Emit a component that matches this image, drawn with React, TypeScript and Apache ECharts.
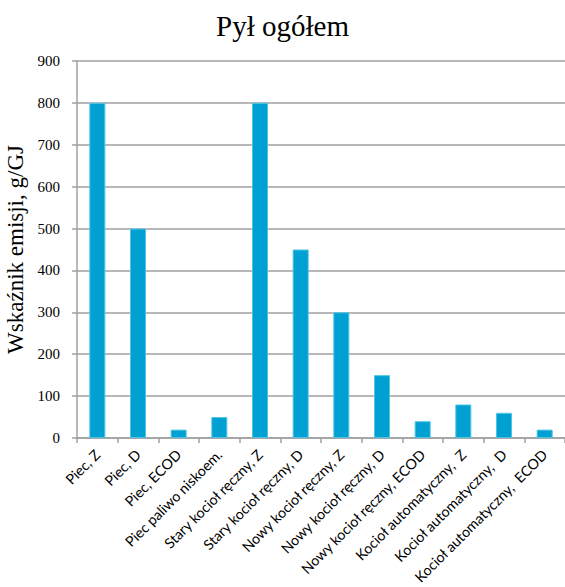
import React, { useEffect, useRef } from "react";
import * as echarts from "echarts";

const categories: string[] = [
  "Piec, Z",
  "Piec, D",
  "Piec, ECOD",
  "Piec paliwo niskoem.",
  "Stary kocioł ręczny, Z",
  "Stary kocioł ręczny, D",
  "Nowy kocioł ręczny, Z",
  "Nowy kocioł ręczny, D",
  "Nowy kocioł ręczny, ECOD",
  "Kocioł automatyczny,  Z",
  "Kocioł automatyczny,  D",
  "Kocioł automatyczny,  ECOD",
];

const emissionValues: number[] = [800, 500, 20, 50, 800, 450, 300, 150, 40, 80, 60, 20];

const titleText = "Pył ogółem";
const yAxisName = "Wskaźnik emisji, g/GJ";
const yMin = 0;
const yMax = 900;
const yInterval = 100;

const serif = "'Liberation Serif', 'Times New Roman', serif";

export default function App() {
  const ref = useRef<HTMLDivElement>(null);
  useEffect(() => {
    if (!ref.current) return;
    const chart = echarts.init(ref.current, undefined, { renderer: "svg" });
    const gray = "#a0a0a0";
    chart.setOption({
      animation: false,
      backgroundColor: "#ffffff",
      title: {
        text: titleText,
        left: "center",
        top: 6,
        textStyle: {
          fontFamily: serif,
          fontSize: 29,
          fontWeight: "normal",
          color: "#000",
        },
      },
      grid: {
        left: 77,
        right: 0,
        top: 61,
        bottom: 149,
        containLabel: false,
        outerBoundsMode: "none",
      },
      xAxis: {
        type: "category",
        data: categories,
        boundaryGap: true,
        axisLine: { show: true, lineStyle: { color: gray, width: 1.5 } },
        axisTick: { show: true, length: 5, alignWithLabel: false, lineStyle: { color: gray, width: 1.5 } },
        axisLabel: {
          interval: 0,
          rotate: 45,
          margin: 14,
          fontFamily: "Lato",
          fontSize: 14.3,
          color: "#000",
        },
      },
      yAxis: {
        type: "value",
        min: yMin,
        max: yMax,
        interval: yInterval,
        name: yAxisName,
        nameLocation: "middle",
        nameGap: 50,
        nameTextStyle: {
          fontFamily: serif,
          fontSize: 23,
          color: "#000",
        },
        axisLine: { show: true, lineStyle: { color: gray, width: 1.5 } },
        axisTick: { show: true, length: 5, lineStyle: { color: gray, width: 1.5 } },
        splitLine: { show: true, lineStyle: { color: gray, width: 1.5 } },
        axisLabel: {
          margin: 17,
          fontFamily: serif,
          fontSize: 15,
          color: "#000",
        },
      },
      series: [
        {
          type: "bar",
          data: emissionValues,
          barWidth: 16,
          itemStyle: { color: "#00A1D2", borderColor: "#4DC3E6", borderWidth: 1 },
        },
      ],
    });
    return () => chart.dispose();
  }, []);
  return (
    <div
      ref={ref}
      style={{ position: "absolute", left: 0, top: 0, width: 565, height: 587, background: "#fff" }}
    />
  );
}
